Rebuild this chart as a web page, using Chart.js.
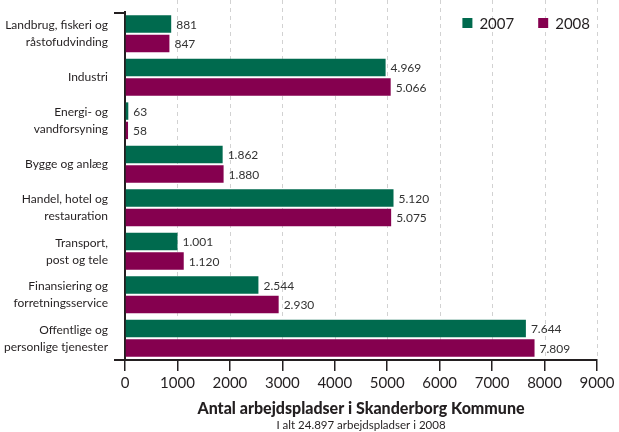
<!DOCTYPE html>
<html>
<head>
<meta charset="utf-8">
<script src="https://cdn.jsdelivr.net/npm/chart.js@4/dist/chart.umd.min.js"></script>
<style>
html,body{margin:0;padding:0;background:#ffffff;}
#wrap{width:619px;height:432px;}
canvas{display:block;}
</style>
</head>
<body>
<div id="wrap"><canvas id="c" width="619" height="432"></canvas></div>
<script>
// ---- data ----
const categories = [
  ["Landbrug, fiskeri og", "råstofudvinding"],
  "Industri",
  ["Energi- og", "vandforsyning"],
  "Bygge og anlæg",
  ["Handel, hotel og", "restauration"],
  ["Transport,", "post og tele"],
  ["Finansiering og", "forretningsservice"],
  ["Offentlige og", "personlige tjenester"]
];
const seriesNames = ["2007", "2008"];
const values2007 = [881, 4969, 63, 1862, 5120, 1001, 2544, 7644];
const values2008 = [847, 5066, 58, 1880, 5075, 1120, 2930, 7809];
const xTickValues = [0, 1000, 2000, 3000, 4000, 5000, 6000, 7000, 8000, 9000];
const axisTitle = "Antal arbejdspladser i Skanderborg Kommune";
const subTitle = "I alt 24.897 arbejdspladser i 2008";

// ---- styles ----
const GREEN = "#006a4e";
const MAROON = "#85004f";
const INK = "#231f20";
const FONT = "Lato";

function fmtDa(v) {
  return String(v).replace(/\B(?=(\d{3})+(?!\d))/g, ".");
}

const gridPlugin = {
  id: "dashedGrid",
  beforeDatasetsDraw(chart) {
    const x = chart.scales.x, ca = chart.chartArea, ctx = chart.ctx;
    ctx.save();
    ctx.strokeStyle = "#d2d2d2";
    ctx.lineWidth = 1;
    ctx.setLineDash([4, 4]);
    xTickValues.forEach(v => {
      if (v === 0) return;
      const px = Math.round(x.getPixelForValue(v)) + 0.5;
      ctx.beginPath();
      ctx.moveTo(px, 0);
      ctx.lineTo(px, ca.bottom);
      ctx.stroke();
    });
    ctx.restore();
  }
};

const axisExtras = {
  id: "axisExtras",
  afterDraw(chart) {
    const ca = chart.chartArea, ctx = chart.ctx;
    ctx.save();
    ctx.strokeStyle = INK;
    ctx.lineWidth = 2;
    ctx.beginPath();
    ctx.moveTo(ca.left - 11, ca.top + 1);
    ctx.lineTo(ca.left + 1, ca.top + 1);
    ctx.moveTo(ca.left - 11, ca.bottom);
    ctx.lineTo(ca.left, ca.bottom);
    ctx.stroke();
    ctx.restore();
  }
};

const valueLabels = {
  id: "valueLabels",
  afterDatasetsDraw(chart) {
    const ctx = chart.ctx;
    ctx.save();
    ctx.font = "12px " + FONT;
    ctx.fillStyle = "#333333";
    ctx.textAlign = "left";
    ctx.textBaseline = "middle";
    chart.data.datasets.forEach((ds, di) => {
      const meta = chart.getDatasetMeta(di);
      meta.data.forEach((el, i) => {
        ctx.fillText(fmtDa(ds.data[i]), el.x + 5, el.y + 1);
      });
    });
    ctx.restore();
  }
};

const customLegend = {
  id: "customLegend",
  afterDraw(chart) {
    const ctx = chart.ctx, ca = chart.chartArea;
    ctx.save();
    ctx.font = "15px " + FONT;
    ctx.textBaseline = "middle";
    ctx.textAlign = "left";
    const cy = ca.top + 11;
    let xr = ca.right - 7;
    const items = chart.data.datasets.map(d => ({label: d.label, color: d.backgroundColor}));
    for (let i = items.length - 1; i >= 0; i--) {
      const w = ctx.measureText(items[i].label).width;
      const tx = xr - w;
      ctx.fillStyle = INK;
      ctx.fillText(items[i].label, tx, cy + 1);
      ctx.fillStyle = items[i].color;
      ctx.fillRect(tx - 17, cy - 5, 10, 10);
      xr = tx - 17 - 24;
    }
    ctx.restore();
  }
};

const subtitlePlugin = {
  id: "subtitleText",
  afterDraw(chart) {
    const ctx = chart.ctx, ca = chart.chartArea;
    ctx.save();
    ctx.font = "11.5px " + FONT;
    ctx.fillStyle = INK;
    ctx.textAlign = "center";
    ctx.textBaseline = "middle";
    ctx.fillText(subTitle, (ca.left + ca.right) / 2, 425);
    ctx.restore();
  }
};

new Chart(document.getElementById("c"), {
  type: "bar",
  data: {
    labels: categories,
    datasets: [
      {label: seriesNames[0], data: values2007, backgroundColor: GREEN},
      {label: seriesNames[1], data: values2008, backgroundColor: MAROON}
    ]
  },
  options: {
    indexAxis: "y",
    responsive: false,
    animation: false,
    devicePixelRatio: 1,
    categoryPercentage: 0.89,
    barPercentage: 0.9,
    layout: {padding: {top: 12, right: 22, left: 0, bottom: 0}},
    plugins: {
      legend: {display: false},
      tooltip: {enabled: false},
      title: {display: false}
    },
    scales: {
      x: {
        type: "linear",
        min: 0,
        max: 9000,
        afterBuildTicks(scale) { scale.ticks = xTickValues.map(v => ({value: v})); },
        afterFit(scale) { scale.height = 72; },
        ticks: {
          callback: v => String(v),
          font: {family: FONT, size: 15},
          color: INK,
          padding: 3,
          maxRotation: 0
        },
        grid: {
          drawOnChartArea: false,
          drawTicks: true,
          tickLength: 11,
          color: INK,
          lineWidth: 1.5
        },
        border: {display: true, color: INK, width: 2},
        title: {
          display: true,
          text: axisTitle,
          font: {family: FONT, size: 16, weight: 900},
          color: INK,
          padding: {top: 0, bottom: 14}
        }
      },
      y: {
        type: "category",
        afterFit(scale) {
          scale.width = 125;
          scale.paddingTop = 0;
          scale.paddingBottom = 0;
        },
        ticks: {
          font: {family: FONT, size: 12, lineHeight: 1.4},
          color: INK,
          padding: 17
        },
        grid: {display: false, drawTicks: false},
        border: {display: true, color: INK, width: 2}
      }
    }
  },
  plugins: [gridPlugin, valueLabels, axisExtras, customLegend, subtitlePlugin]
});
</script>
</body>
</html>
